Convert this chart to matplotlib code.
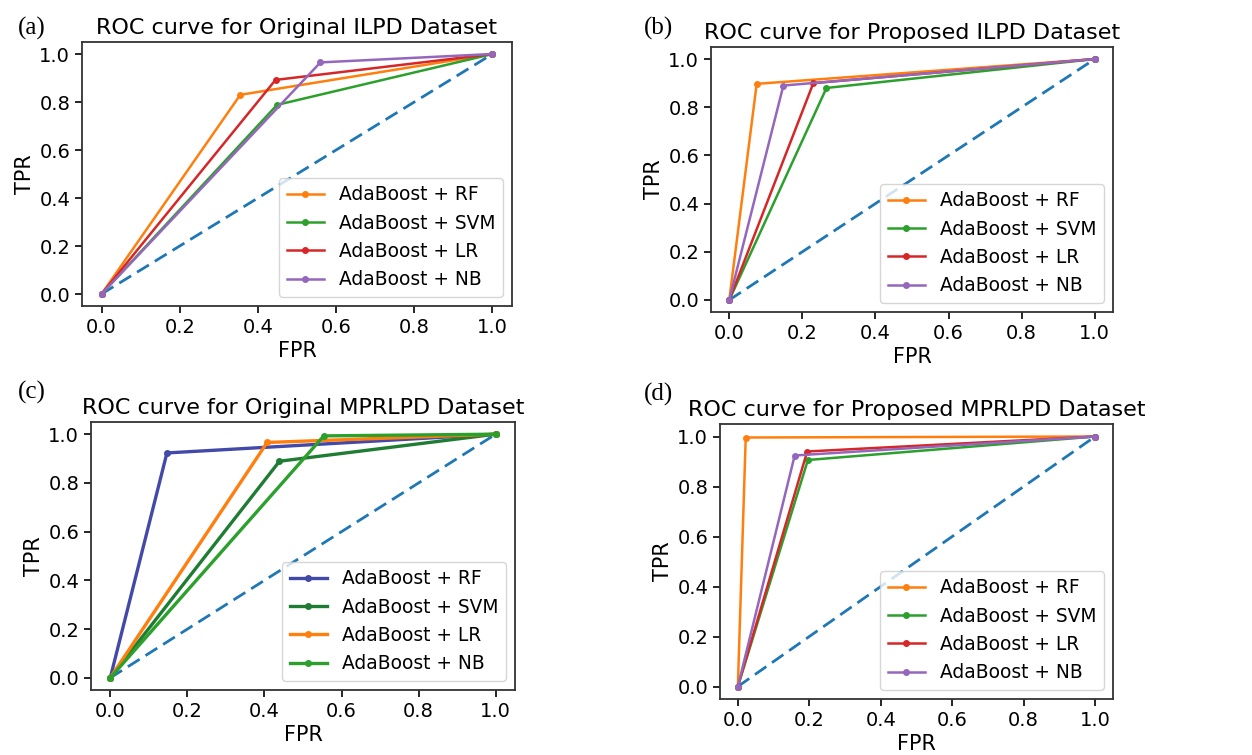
import matplotlib
matplotlib.use("Agg")
import matplotlib.pyplot as plt

# Nomes das curvas na legenda
labels = ['AdaBoost + RF', 'AdaBoost + SVM', 'AdaBoost + LR', 'AdaBoost + NB']

# (a) Original ILPD - pontos (FPR, TPR) de cada curva
fpr_a = [[0, 0.355, 1], [0, 0.449, 1], [0, 0.445, 1], [0, 0.560, 1]]
tpr_a = [[0, 0.830, 1], [0, 0.788, 1], [0, 0.892, 1], [0, 0.965, 1]]

# (b) Proposed ILPD
fpr_b = [[0, 0.075, 1], [0, 0.266, 1], [0, 0.230, 1], [0, 0.148, 1]]
tpr_b = [[0, 0.897, 1], [0, 0.880, 1], [0, 0.900, 1], [0, 0.890, 1]]

# (c) Original MPRLPD
fpr_c = [[0, 0.147, 1], [0, 0.439, 1], [0, 0.407, 1], [0, 0.554, 1]]
tpr_c = [[0, 0.923, 1], [0, 0.889, 1], [0, 0.966, 1], [0, 0.993, 1]]

# (d) Proposed MPRLPD
fpr_d = [[0, 0.022, 1], [0, 0.196, 1], [0, 0.194, 1], [0, 0.159, 1]]
tpr_d = [[0, 0.996, 1], [0, 0.906, 1], [0, 0.940, 1], [0, 0.924, 1]]

# linha de referencia (classificador aleatorio)
diag = [0, 1]

titulos = ['ROC curve for Original ILPD Dataset',
           'ROC curve for Proposed ILPD Dataset',
           'ROC curve for Original MPRLPD Dataset',
           'ROC curve for Proposed MPRLPD Dataset']
letras = ['(a)', '(b)', '(c)', '(d)']

cores_padrao = ['#ff7f0e', '#2ca02c', '#d62728', '#9467bd']
cores_c = ['#4349a8', '#1f7d33', '#ff7f0e', '#2ca02c']

fig = plt.figure(figsize=(12.52, 7.55), dpi=100)

# posicoes dos eixos em pixels (esq, dir, topo, baixo)
caixas = [(82, 512, 42, 306), (711, 1113, 47, 312),
          (91, 515, 422, 690), (720, 1113, 424, 699)]
posicoes_letra = [(18, 28), (644, 28), (18, 392), (644, 394)]

dados = [(fpr_a, tpr_a, cores_padrao, 1.8),
         (fpr_b, tpr_b, cores_padrao, 1.8),
         (fpr_c, tpr_c, cores_c, 2.4),
         (fpr_d, tpr_d, cores_padrao, 1.8)]

W, H = 1252, 755
for i, (fprs, tprs, cores, lw) in enumerate(dados):
    l, r, t, b = caixas[i]
    ax = fig.add_axes([l / W, (H - b) / H, (r - l) / W, (b - t) / H])
    ax.plot(diag, diag, linestyle='--', dashes=(5, 2.5), color='#1f77b4', lw=2)
    for fpr, tpr, cor, lab in zip(fprs, tprs, cores, labels):
        ax.plot(fpr, tpr, marker='.', markersize=8, color=cor, lw=lw, label=lab)
    ax.set_title(titulos[i], fontsize=16, pad=6)
    ax.set_xlabel('FPR', fontsize=15, labelpad=3)
    ax.set_ylabel('TPR', fontsize=15, labelpad=3)
    ax.set_xticks([0, 0.2, 0.4, 0.6, 0.8, 1.0])
    ax.set_yticks([0, 0.2, 0.4, 0.6, 0.8, 1.0])
    ax.tick_params(labelsize=14, width=1.2, length=5)
    for s in ax.spines.values():
        s.set_linewidth(1.3)
        s.set_color('#333333')
    ax.legend(loc='lower right', fontsize=13.4)
    x, y = posicoes_letra[i]
    fig.text(x / W, 1 - y / H, letras[i], fontsize=18, family='Liberation Serif',
             ha='left', va='center')

fig.savefig('out.png', dpi=100)
